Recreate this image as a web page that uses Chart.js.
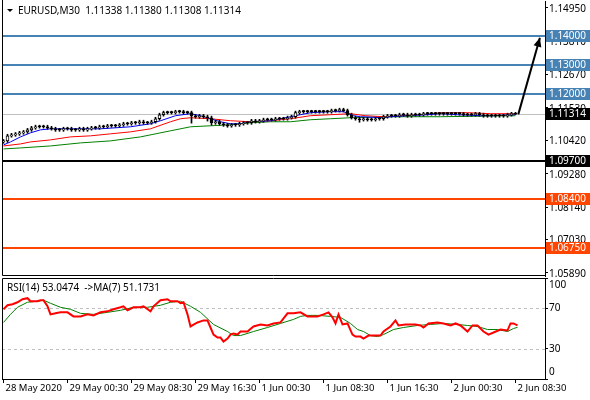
<!DOCTYPE html>
<html>
<head>
<meta charset="utf-8">
<title>EURUSD,M30</title>
<script src="https://cdn.jsdelivr.net/npm/chart.js@4/dist/chart.umd.min.js"></script>
<style>
  html, body { margin: 0; padding: 0; background: #fff; }
  #wrap { position: relative; width: 590px; height: 400px; overflow: hidden; }
  #priceChart { position: absolute; left: 0; top: 0; }
  #rsiChart { position: absolute; left: 0; top: 277px; }
</style>
</head>
<body>
<div id="wrap">
  <canvas id="priceChart" width="590" height="277"></canvas>
  <canvas id="rsiChart" width="590" height="123"></canvas>
</div>
<script>
// Time axis (bar index -> label), one slot = one M30 bar
const timeIdx = [0, 16, 32, 48, 64, 80, 96, 112, 128];
const timeLabels = ['28 May 2020', '29 May 00:30', '29 May 08:30', '29 May 16:30',
  '1 Jun 00:30', '1 Jun 08:30', '1 Jun 16:30', '2 Jun 00:30', '2 Jun 08:30'];

// Price axis tick labels
const priceTicks = [1.14950, 1.13810, 1.12670, 1.11530, 1.10420, 1.09280, 1.08140, 1.07030, 1.05890];

// Horizontal levels drawn on the chart
const levels = [1.14000, 1.13000, 1.12000, 1.09700, 1.08400, 1.06750];
const lastPrice = 1.11314;

// Candles, 28 May 16:30 .. 2 Jun 08:30
const opens = [
  1.10370,1.10403,1.10575,1.10609,1.10644,1.10678,1.10712,1.10781,1.10850,1.10885,
  1.10885,1.10885,1.10850,1.10816,1.10781,1.10781,1.10816,1.10816,1.10781,1.10781,
  1.10816,1.10781,1.10816,1.10850,1.10850,1.10885,1.10885,1.10919,1.10919,1.10919,
  1.10954,1.10988,1.10988,1.11023,1.11023,1.11057,1.11023,1.11023,1.11057,1.11160,
  1.11298,1.11367,1.11367,1.11367,1.11402,1.11402,1.11367,1.11367,1.11264,1.11229,
  1.11264,1.11229,1.11195,1.11023,1.11057,1.10988,1.10954,1.10919,1.10954,1.10954,
  1.10988,1.11023,1.11023,1.11092,1.11057,1.11092,1.11126,1.11126,1.11126,1.11160,
  1.11160,1.11160,1.11195,1.11229,1.11367,1.11402,1.11402,1.11402,1.11402,1.11402,
  1.11402,1.11402,1.11402,1.11436,1.11436,1.11471,1.11436,1.11298,1.11195,1.11160,
  1.11126,1.11160,1.11126,1.11126,1.11160,1.11160,1.11229,1.11264,1.11264,1.11264,
  1.11298,1.11298,1.11264,1.11298,1.11298,1.11298,1.11333,1.11333,1.11333,1.11333,
  1.11333,1.11333,1.11333,1.11333,1.11333,1.11333,1.11298,1.11298,1.11298,1.11333,
  1.11298,1.11264,1.11264,1.11264,1.11264,1.11264,1.11264,1.11298,1.11338];
const highs = [
  1.1045,1.1063,1.1066,1.1069,1.1073,1.1076,1.1083,1.1090,1.1094,1.1094,
  1.1094,1.1094,1.1090,1.1087,1.1083,1.1087,1.1087,1.1087,1.1083,1.1087,
  1.1087,1.1087,1.1090,1.1090,1.1094,1.1094,1.1097,1.1097,1.1097,1.1100,
  1.1104,1.1104,1.1107,1.1107,1.1111,1.1111,1.1107,1.1111,1.1121,1.1135,
  1.1142,1.1142,1.1142,1.1145,1.1145,1.1145,1.1142,1.1142,1.1131,1.1131,
  1.1131,1.1128,1.1125,1.1111,1.1111,1.1104,1.1100,1.1100,1.1100,1.1104,
  1.1107,1.1107,1.1114,1.1114,1.1114,1.1118,1.1118,1.1118,1.1121,1.1121,
  1.1121,1.1125,1.1128,1.1142,1.1145,1.1145,1.1145,1.1145,1.1145,1.1145,
  1.1145,1.1145,1.1149,1.1149,1.1152,1.1152,1.1149,1.1135,1.1125,1.1121,
  1.1121,1.1121,1.1118,1.1121,1.1121,1.1128,1.1131,1.1131,1.1131,1.1135,
  1.1135,1.1135,1.1135,1.1135,1.1135,1.1138,1.1138,1.1138,1.1138,1.1138,
  1.1138,1.1138,1.1138,1.1138,1.1138,1.1138,1.1135,1.1135,1.1138,1.1138,
  1.1135,1.1131,1.1131,1.1131,1.1131,1.1131,1.1135,1.1138,1.11380];
const lows = [
  1.1032,1.1035,1.1053,1.1056,1.1059,1.1063,1.1066,1.1073,1.1080,1.1084,
  1.1084,1.1080,1.1077,1.1073,1.1073,1.1073,1.1077,1.1073,1.1073,1.1073,
  1.1073,1.1073,1.1077,1.1080,1.1080,1.1084,1.1084,1.1087,1.1087,1.1087,
  1.1090,1.1094,1.1094,1.1097,1.1097,1.1097,1.1097,1.1097,1.1101,1.1111,
  1.1125,1.1132,1.1132,1.1132,1.1135,1.1132,1.1132,1.1101,1.1118,1.1118,
  1.1118,1.1108,1.1094,1.1097,1.1094,1.1090,1.1087,1.1087,1.1090,1.1090,
  1.1094,1.1097,1.1097,1.1101,1.1101,1.1104,1.1108,1.1108,1.1108,1.1111,
  1.1111,1.1111,1.1115,1.1118,1.1132,1.1135,1.1135,1.1135,1.1135,1.1135,
  1.1135,1.1135,1.1135,1.1139,1.1139,1.1139,1.1125,1.1115,1.1111,1.1104,
  1.1108,1.1108,1.1108,1.1108,1.1111,1.1111,1.1118,1.1121,1.1121,1.1121,
  1.1125,1.1121,1.1121,1.1125,1.1125,1.1125,1.1128,1.1128,1.1128,1.1128,
  1.1128,1.1128,1.1128,1.1128,1.1128,1.1125,1.1125,1.1125,1.1125,1.1125,
  1.1121,1.1121,1.1121,1.1121,1.1121,1.1121,1.1121,1.1125,1.11308];
const closes = [
  1.10403,1.10575,1.10609,1.10644,1.10678,1.10712,1.10781,1.10850,1.10885,1.10885,
  1.10885,1.10850,1.10816,1.10781,1.10781,1.10816,1.10816,1.10781,1.10781,1.10816,
  1.10781,1.10816,1.10850,1.10850,1.10885,1.10885,1.10919,1.10919,1.10919,1.10954,
  1.10988,1.10988,1.11023,1.11023,1.11057,1.11023,1.11023,1.11057,1.11160,1.11298,
  1.11367,1.11367,1.11367,1.11402,1.11402,1.11367,1.11367,1.11264,1.11229,1.11264,
  1.11229,1.11195,1.11023,1.11057,1.10988,1.10954,1.10919,1.10954,1.10954,1.10988,
  1.11023,1.11023,1.11092,1.11057,1.11092,1.11126,1.11126,1.11126,1.11160,1.11160,
  1.11160,1.11195,1.11229,1.11367,1.11402,1.11402,1.11402,1.11402,1.11402,1.11402,
  1.11402,1.11402,1.11436,1.11436,1.11471,1.11436,1.11298,1.11195,1.11160,1.11126,
  1.11160,1.11126,1.11126,1.11160,1.11160,1.11229,1.11264,1.11264,1.11264,1.11298,
  1.11298,1.11264,1.11298,1.11298,1.11298,1.11333,1.11333,1.11333,1.11333,1.11333,
  1.11333,1.11333,1.11333,1.11333,1.11333,1.11298,1.11298,1.11298,1.11333,1.11298,
  1.11264,1.11264,1.11264,1.11264,1.11264,1.11264,1.11298,1.11333,1.11314];

// Moving averages on price, [bar, value]
const blueMa = [[0,1.10265],[1.75,1.10368],[4.25,1.10540],[6.75,1.10678],[9.25,1.10781],[11.75,1.10816],
  [24.25,1.10816],[31.75,1.10885],[36.75,1.10988],[39.25,1.11092],[43,1.11264],[46.75,1.11333],
  [49.25,1.11264],[51.75,1.11160],[54.25,1.11057],[56.75,1.10988],[59.25,1.10988],[61.75,1.11057],
  [66.75,1.11092],[69.25,1.11160],[71.75,1.11229],[74.25,1.11298],[76.75,1.11367],[81.75,1.11402],
  [85,1.11402],[87.5,1.11264],[89.25,1.11229],[95,1.11195],[96.75,1.11229],[101,1.11264],
  [106,1.11298],[109.25,1.11333],[113.5,1.11298],[119.25,1.11264],[122.5,1.11264],[128,1.11300]];
const redMa = [[0,1.10230],[4.25,1.10299],[6.75,1.10368],[11.75,1.10437],[16.75,1.10540],[21.75,1.10575],
  [26.75,1.10644],[31.75,1.10712],[36.75,1.10816],[41.75,1.11057],[44.25,1.11160],[46.75,1.11195],
  [51.75,1.11160],[56.75,1.11092],[61.75,1.11057],[66.75,1.11092],[71.75,1.11160],[76.75,1.11264],
  [81.75,1.11298],[86.75,1.11333],[90.5,1.11264],[95,1.11229],[99.25,1.11264],[104.25,1.11298],
  [109.25,1.11367],[116,1.11367],[121.75,1.11333],[128,1.11333]];
const greenMa = [[0,1.10127],[4.25,1.10162],[11.75,1.10230],[19.25,1.10334],[26.75,1.10403],[34.25,1.10540],
  [41.75,1.10747],[46.75,1.10885],[51.75,1.10919],[56.75,1.10954],[61.75,1.11023],[66.75,1.11057],
  [71.75,1.11057],[76.75,1.11126],[81.75,1.11160],[86.75,1.11195],[96.75,1.11229],[109.25,1.11229],
  [128,1.11264]];

// Arrow drawn from the last bar up to the 1.14000 level
const arrowPts = [[128.7, 1.1131], [134.1, 1.1393]];

// RSI(14) and its MA(7), [bar, value]
const rsiPts = [[0,69],[1,73],[2.25,74],[3.5,76],[4.75,79],[6,80],[6.75,77],[8.5,77],[9.25,78],[10,78],
  [11,72],[11.75,64],[13,65],[14.25,66],[16,66],[17.5,62],[19.25,62],[21,64],[22.5,63],[24.25,66],
  [26,67],[27.5,69],[29.25,71],[30,72],[31,68],[32.5,71],[34.25,71],[35,72],[36.75,67],[37.5,72],
  [39.25,78],[41,79],[41.75,77],[43.5,77],[44.25,75],[45,76],[46,64],[46.75,52],[48.5,56],[50,58],
  [51,58],[51.75,51],[52.5,44],[53.5,41],[54.25,41],[55,37],[56,40],[56.75,44],[57.5,45],[58.5,44],
  [59.25,47],[61,47],[62.5,52],[64.25,54],[66,53],[67.5,55],[69.25,56],[71,65],[72.5,65],[74.25,66],
  [76,62],[78.5,62],[80,64],[81.25,66],[82.25,61],[83,55],[83.75,64],[84.75,54],[86,55],[87.25,44],
  [88,42],[89.25,42],[90,40],[91.25,43],[92.5,43],[94.25,43],[95,47],[96.75,52],[98,58],[98.75,53],
  [100.5,54],[101.75,54],[103,54],[104.25,53],[105,51],[106.25,55],[108.5,56],[110,55],[111.75,53],
  [113,55],[114.25,53],[116,47],[117.25,53],[118.5,53],[120,47],[121.25,44],[122.5,46],[124.25,49],
  [126,48],[126.75,55],[127.5,55],[128.5,53.05]];
const rsiMaPts = [[0,56],[1.75,64],[3.5,71],[6,76],[8.5,77],[10,78],[11.75,75],[14.25,71],[16.75,69],
  [19.25,65],[22.5,64],[26,66],[29.25,68],[32.5,71],[36,71],[39.25,73],[41.75,76],[44.25,77],[46.75,72],
  [49.25,66],[52.5,54],[56,47],[57.5,43],[59.25,43],[62.5,47],[66,51],[69.25,55],[72.5,59],[74.25,62],
  [76,63],[78.5,63],[81.75,62],[84.25,61],[86.75,55],[88.5,49],[90,47],[91.75,43],[93.5,42],[95,44],
  [97.5,49],[100,51],[103.5,53],[106.75,54],[110,55],[113.5,54],[116,53],[118.5,52],[121,49],
  [123.5,49],[126,47],[127.5,50],[128.5,51.17]];
const rsiLevels = [30, 70];

// ---- styling ----
const FONT = '"Noto Sans", "DejaVu Sans", sans-serif';
Chart.defaults.font.family = FONT;
Chart.defaults.color = '#000';

const X_MIN = -0.375, X_MAX = 135.375;   // 4 px per bar
const Y_MIN = 1.05782, Y_MAX = 1.15187;
const levelColors = ['#4682B4', '#4682B4', '#4682B4', '#000000', '#FF4500', '#FF4500'];
const toXY = p => ({ x: p[0], y: p[1] });

// keep the plot area flush with the layout padding
function fitRightAxis(s) {
  s.width = 45;
  s.paddingTop = 0;
  s.paddingBottom = 0;
}

function rightBox(ctx, area, y, bg, text) {
  const yy = Math.round(y);
  ctx.fillStyle = bg;
  ctx.fillRect(area.right + 1, yy - 6, 44, 12);
  ctx.fillStyle = '#fff';
  ctx.font = '10px ' + FONT;
  ctx.textBaseline = 'middle';
  ctx.textAlign = 'left';
  ctx.fillText(text, area.right + 4, yy + 0.5);
}

const pricePlugin = {
  id: 'priceExtras',
  beforeDatasetsDraw(chart) {
    const { ctx, chartArea: a, scales: { y } } = chart;
    ctx.save();
    // bid line
    const py = Math.round(y.getPixelForValue(lastPrice)) + 0.5;
    ctx.strokeStyle = '#C0C0C0';
    ctx.lineWidth = 1;
    ctx.beginPath(); ctx.moveTo(a.left, py); ctx.lineTo(a.right, py); ctx.stroke();
    // levels
    levels.forEach((v, i) => {
      const ly = Math.round(y.getPixelForValue(v));
      ctx.strokeStyle = levelColors[i];
      ctx.lineWidth = 2;
      ctx.beginPath(); ctx.moveTo(a.left, ly); ctx.lineTo(a.right, ly); ctx.stroke();
    });
    ctx.restore();
  },
  afterDatasetsDraw(chart) {
    // arrow head
    const { ctx, scales: { x, y } } = chart;
    const x0 = x.getPixelForValue(arrowPts[0][0]), y0 = y.getPixelForValue(arrowPts[0][1]);
    const x1 = x.getPixelForValue(arrowPts[1][0]), y1 = y.getPixelForValue(arrowPts[1][1]);
    const ang = Math.atan2(y1 - y0, x1 - x0);
    ctx.save();
    ctx.fillStyle = '#000';
    ctx.beginPath();
    ctx.moveTo(x1, y1);
    ctx.lineTo(x1 - 9 * Math.cos(ang) + 4 * Math.sin(ang), y1 - 9 * Math.sin(ang) - 4 * Math.cos(ang));
    ctx.lineTo(x1 - 9 * Math.cos(ang) - 4 * Math.sin(ang), y1 - 9 * Math.sin(ang) + 4 * Math.cos(ang));
    ctx.closePath();
    ctx.fill();
    ctx.restore();
  },
  afterDraw(chart) {
    const { ctx, chartArea: a, scales: { y } } = chart;
    ctx.save();
    // frame
    ctx.strokeStyle = '#000';
    ctx.lineWidth = 1;
    ctx.beginPath();
    ctx.moveTo(a.left + 0.5, 0); ctx.lineTo(a.left + 0.5, a.bottom - 0.5); ctx.lineTo(a.right, a.bottom - 0.5);
    ctx.stroke();
    // price labels on the axis
    levels.forEach((v, i) => rightBox(ctx, a, y.getPixelForValue(v), levelColors[i], v.toFixed(5)));
    rightBox(ctx, a, y.getPixelForValue(lastPrice), '#000', lastPrice.toFixed(5));
    // symbol line
    ctx.fillStyle = '#000';
    ctx.beginPath(); ctx.moveTo(7, 9); ctx.lineTo(13, 9); ctx.lineTo(10, 12); ctx.closePath(); ctx.fill();
    ctx.font = '10px ' + FONT;
    ctx.textBaseline = 'middle';
    ctx.textAlign = 'left';
    ctx.fillText('EURUSD,M30  ' + [opens[128], highs[128], lows[128], closes[128]].map(v => v.toFixed(5)).join(' '), 18, 11);
    ctx.restore();
  }
};

new Chart(document.getElementById('priceChart'), {
  type: 'bar',
  data: {
    datasets: [
      { type: 'line', data: greenMa.map(toXY), borderColor: '#008000', borderWidth: 1, pointRadius: 0, order: 5 },
      { type: 'line', data: redMa.map(toXY), borderColor: '#FF0000', borderWidth: 1, pointRadius: 0, order: 4 },
      { type: 'line', data: blueMa.map(toXY), borderColor: '#0000FF', borderWidth: 1, pointRadius: 0, order: 3 },
      { type: 'bar', data: lows.map((l, i) => ({ x: i, y: [l, highs[i]] })),
        backgroundColor: '#000', barThickness: 1, grouped: false, order: 2 },
      { type: 'bar', data: opens.map((o, i) => ({ x: i, y: [o, closes[i]] })),
        backgroundColor: c => closes[c.dataIndex] > opens[c.dataIndex] ? '#fff' : '#000',
        borderColor: '#000', borderWidth: 1, borderSkipped: false,
        barThickness: 3, minBarLength: 1, grouped: false, order: 1 },
      { type: 'line', data: arrowPts.map(toXY), borderColor: '#000', borderWidth: 2, pointRadius: 0, order: 0 }
    ]
  },
  options: {
    responsive: false,
    animation: false,
    devicePixelRatio: 1,
    layout: { padding: { left: 2, top: 1, right: 0, bottom: 1 } },
    plugins: { legend: { display: false }, tooltip: { enabled: false } },
    scales: {
      x: { type: 'linear', min: X_MIN, max: X_MAX, offset: false, display: false },
      y: {
        type: 'linear', position: 'right', min: Y_MIN, max: Y_MAX,
        afterFit: fitRightAxis,
        afterBuildTicks: s => { s.ticks = priceTicks.map(v => ({ value: v })); },
        ticks: { callback: v => v.toFixed(5), font: { size: 10 }, padding: 1, labelOffset: 1, color: '#000' },
        grid: { drawOnChartArea: false, tickLength: 3, color: '#000' },
        border: { display: true, color: '#000' }
      }
    }
  },
  plugins: [pricePlugin]
});

const rsiPlugin = {
  id: 'rsiExtras',
  beforeDatasetsDraw(chart) {
    const { ctx, chartArea: a, scales: { y } } = chart;
    ctx.save();
    ctx.strokeStyle = '#C0C0C0';
    ctx.lineWidth = 1;
    ctx.setLineDash([3, 3]);
    rsiLevels.forEach(v => {
      const ly = Math.round(y.getPixelForValue(v)) + 0.5;
      ctx.beginPath(); ctx.moveTo(a.left, ly); ctx.lineTo(a.right, ly); ctx.stroke();
    });
    ctx.restore();
  },
  afterDraw(chart) {
    const { ctx, chartArea: a, scales: { y } } = chart;
    ctx.save();
    ctx.strokeStyle = '#000';
    ctx.lineWidth = 1;
    ctx.beginPath();
    ctx.moveTo(a.left + 0.5, a.bottom); ctx.lineTo(a.left + 0.5, a.top + 0.5); ctx.lineTo(a.right, a.top + 0.5);
    ctx.stroke();
    ctx.fillStyle = '#000';
    ctx.font = '10px ' + FONT;
    ctx.textBaseline = 'middle';
    ctx.textAlign = 'left';
    ctx.fillText('100', a.right + 4, y.getPixelForValue(100) + 7);
    ctx.fillText('0', a.right + 4, y.getPixelForValue(0) - 7);
    ctx.fillText('RSI(14) 53.0474  ->MA(7) 51.1731', 7, 11);
    ctx.restore();
  }
};

new Chart(document.getElementById('rsiChart'), {
  type: 'line',
  data: {
    datasets: [
      { data: rsiMaPts.map(toXY), borderColor: '#008000', borderWidth: 1, pointRadius: 0, order: 1 },
      { data: rsiPts.map(toXY), borderColor: '#FF0000', borderWidth: 2, pointRadius: 0, order: 0 }
    ]
  },
  options: {
    responsive: false,
    animation: false,
    devicePixelRatio: 1,
    layout: { padding: { left: 2, top: 1, right: 0, bottom: 0 } },
    plugins: { legend: { display: false }, tooltip: { enabled: false } },
    scales: {
      x: {
        type: 'linear', min: X_MIN, max: X_MAX, offset: false,
        afterFit: s => { s.height = 21; },
        afterBuildTicks: s => { s.ticks = timeIdx.map(v => ({ value: v })); },
        ticks: {
          align: 'start', maxRotation: 0, minRotation: 0, autoSkip: false,
          labelOffset: 2, padding: 0, font: { size: 9.5 }, color: '#000',
          callback: v => timeLabels[timeIdx.indexOf(v)]
        },
        grid: { drawOnChartArea: false, tickLength: 4, color: '#000' },
        border: { display: true, color: '#000' }
      },
      y: {
        type: 'linear', position: 'right', min: 0, max: 100,
        afterFit: fitRightAxis,
        afterBuildTicks: s => { s.ticks = [0, 30, 70, 100].map(v => ({ value: v })); },
        ticks: { callback: v => (v === 30 || v === 70) ? String(v) : '', font: { size: 10 }, padding: 1, color: '#000' },
        grid: { drawOnChartArea: false, tickLength: 3, color: '#000' },
        border: { display: true, color: '#000' }
      }
    }
  },
  plugins: [rsiPlugin]
});
</script>
</body>
</html>
